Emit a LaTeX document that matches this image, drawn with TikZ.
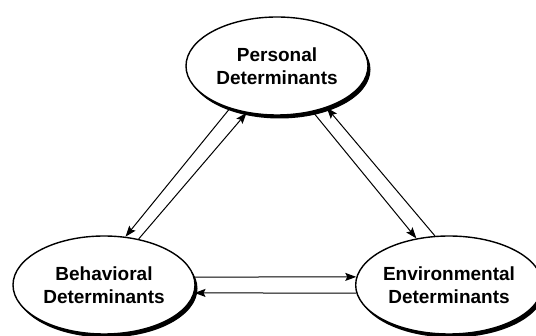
\documentclass[tikz,border=0pt]{standalone}
\usepackage{fontspec}
\setmainfont{Liberation Sans}
\usetikzlibrary{shapes.geometric, shadows, arrows.meta}

\tikzset{
  determ/.style = {ellipse, draw, line width = 1.4pt, fill = white,
    minimum width = 182pt, minimum height = 98pt, inner sep = 0pt,
    align = center, font = \bfseries\fontsize{19}{22.5}\selectfont,
    drop shadow = {shadow xshift = 2.5pt, shadow yshift = -3.5pt,
      fill = black, opacity = 1}},
  arr/.style = {line width = 1pt, -{Stealth[length = 11pt, width = 8pt, inset = 2pt]}}
}

\begin{document}
\begin{tikzpicture}[x = 1pt, y = -1pt]
\useasboundingbox (0, 0) rectangle (536, 336);
%\draw[very thin, color = gray](0, 0) grid[step = 20] (536, 336);
\node (pers) [determ] at (277, 66) {Personal\\Determinants};
\node (behav) [determ] at (104, 285) {Behavioral\\Determinants};
\node (envir) [determ] at (449, 285) {Environmental\\Determinants};
\draw[arr] (pers.222) -- (behav.66);
\draw[arr] (behav.53) -- (pers.237);
\draw[arr] (pers.308) -- (envir.125);
\draw[arr] (envir.106) -- (pers.320);
\draw[arr] (behav.5) -- (envir.175);
\draw[arr] (envir.185) -- (behav.355);
\end{tikzpicture}
\end{document}
